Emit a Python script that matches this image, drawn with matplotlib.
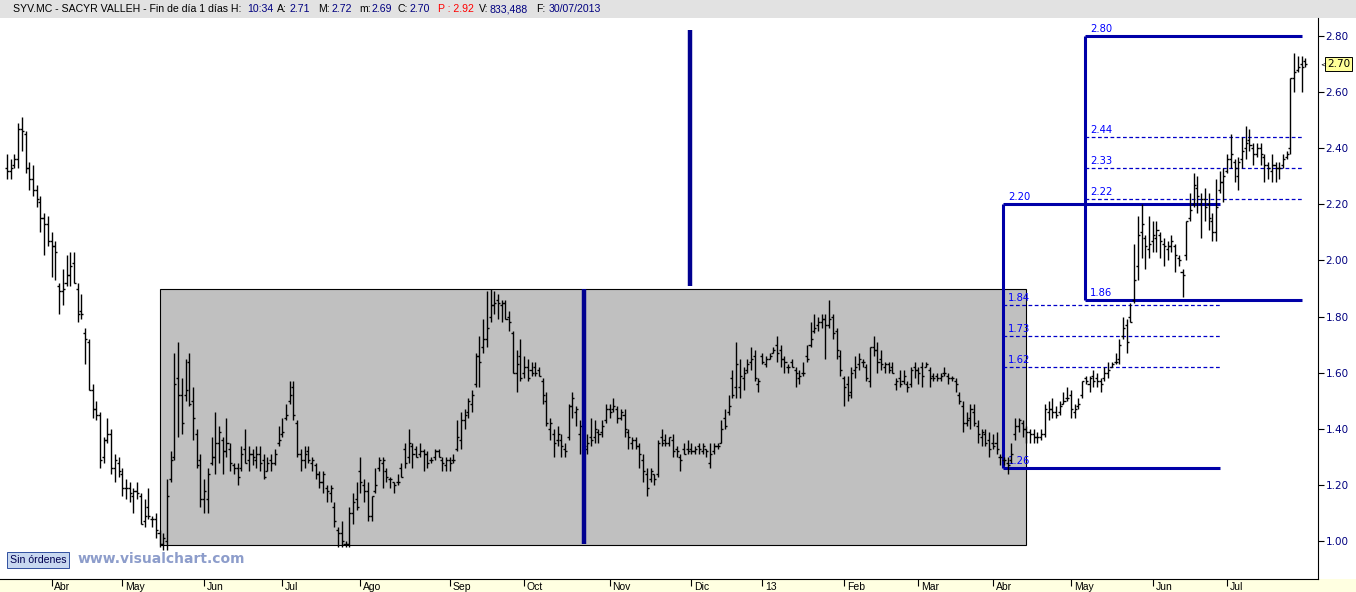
import numpy as np
import matplotlib
matplotlib.use("Agg")
import matplotlib.pyplot as plt
from matplotlib.patches import Rectangle
from matplotlib.transforms import ScaledTranslation, blended_transform_factory

# daily bars SYV.MC, mid-March 2012 .. 30/07/2013
highs = [
    2.38, 2.36, 2.38, 2.49, 2.51, 2.46, 2.35, 2.34, 2.27, 2.23,
    2.17, 2.16, 2.10, 2.07, 1.92, 1.97, 2.02, 2.03, 2.03, 1.92,
    1.88, 1.76, 1.72, 1.56, 1.50, 1.46, 1.37, 1.44, 1.40, 1.31,
    1.30, 1.26, 1.22, 1.21, 1.19, 1.21, 1.17, 1.15, 1.19, 1.09,
    1.10, 1.04, 1.03, 1.22,
    1.32, 1.67, 1.71, 1.58, 1.65, 1.67, 1.55, 1.40, 1.31, 1.22,
    1.26, 1.37, 1.46, 1.41, 1.37, 1.44, 1.35, 1.28, 1.28, 1.34,
    1.40, 1.34, 1.33, 1.34, 1.34, 1.31, 1.30, 1.31, 1.33, 1.41,
    1.44, 1.49, 1.57, 1.57, 1.43, 1.33, 1.34, 1.34, 1.30, 1.28,
    1.25, 1.25, 1.20, 1.20, 1.14, 1.05,
    1.07, 1.00, 1.12, 1.17, 1.21, 1.30, 1.22, 1.21, 1.16, 1.26,
    1.30, 1.30, 1.26, 1.23, 1.21, 1.24, 1.28, 1.35, 1.40, 1.35,
    1.34, 1.35, 1.33, 1.32, 1.30, 1.33, 1.33, 1.30, 1.30, 1.30,
    1.31, 1.43, 1.46, 1.47, 1.51, 1.54, 1.67, 1.73, 1.79, 1.89,
    1.90, 1.89, 1.88, 1.86, 1.86, 1.82,
    1.75, 1.68, 1.72, 1.66, 1.65, 1.64, 1.64, 1.62, 1.58, 1.53,
    1.44, 1.40, 1.41, 1.38, 1.35, 1.49, 1.53, 1.48, 1.43, 1.37,
    1.38, 1.44, 1.43, 1.40, 1.43, 1.49, 1.49, 1.51, 1.48, 1.47,
    1.47, 1.40, 1.37, 1.37, 1.35, 1.31, 1.26, 1.26, 1.24, 1.36,
    1.40, 1.38, 1.37, 1.38, 1.34,
    1.31, 1.35, 1.36, 1.35, 1.34, 1.35, 1.35, 1.33, 1.35, 1.35,
    1.35, 1.43, 1.47, 1.52, 1.61, 1.71, 1.65, 1.62, 1.65, 1.69,
    1.68, 1.58, 1.67, 1.66, 1.67, 1.69, 1.73, 1.70, 1.66, 1.63,
    1.65, 1.62, 1.61, 1.64, 1.70, 1.78, 1.81, 1.80, 1.81, 1.81,
    1.86, 1.81, 1.76, 1.68, 1.59, 1.59, 1.62, 1.66, 1.67,
    1.65, 1.63, 1.69, 1.73, 1.71, 1.68, 1.64, 1.64, 1.64, 1.58,
    1.61, 1.61, 1.57, 1.62, 1.64, 1.62, 1.64, 1.64, 1.62, 1.60,
    1.60, 1.60, 1.62, 1.60, 1.59, 1.58, 1.53, 1.50, 1.46, 1.49,
    1.49, 1.43, 1.40, 1.40, 1.39, 1.38, 1.39, 1.31, 1.30, 1.30,
    1.35, 1.44, 1.44, 1.43,
    1.41, 1.40, 1.40, 1.39, 1.40, 1.49, 1.50, 1.51, 1.48, 1.50,
    1.53, 1.55, 1.54, 1.49, 1.51, 1.57, 1.59, 1.59, 1.61, 1.60,
    1.58, 1.62, 1.64, 1.64, 1.67, 1.72, 1.80, 1.79, 1.85,
    2.06, 2.16, 2.20, 2.09, 2.16, 2.14, 2.14, 2.10, 2.08, 2.07,
    2.09, 2.06, 2.02, 1.97, 2.14, 2.24, 2.31, 2.30, 2.24, 2.26,
    2.24, 2.17, 2.29, 2.32, 2.33, 2.38, 2.45, 2.36, 2.37, 2.44,
    2.48, 2.47, 2.42, 2.42, 2.42, 2.38, 2.35, 2.38, 2.35, 2.35,
    2.38, 2.39, 2.65, 2.74, 2.73, 2.73, 2.72,
]
lows = [
    2.29, 2.29, 2.33, 2.33, 2.39, 2.31, 2.25, 2.23, 2.19, 2.10,
    2.02, 2.05, 1.94, 1.93, 1.81, 1.84, 1.91, 1.91, 1.92, 1.78,
    1.79, 1.63, 1.54, 1.44, 1.43, 1.26, 1.28, 1.35, 1.24, 1.21,
    1.23, 1.16, 1.15, 1.14, 1.10, 1.15, 1.06, 1.05, 1.08, 1.05,
    1.01, 0.98, 0.97, 0.97,
    1.21, 1.29, 1.37, 1.38, 1.50, 1.48, 1.36, 1.26, 1.12, 1.10,
    1.10, 1.27, 1.24, 1.28, 1.24, 1.30, 1.25, 1.24, 1.20, 1.25,
    1.28, 1.25, 1.27, 1.26, 1.25, 1.22, 1.25, 1.25, 1.27, 1.34,
    1.37, 1.43, 1.49, 1.43, 1.30, 1.25, 1.26, 1.28, 1.25, 1.22,
    1.19, 1.17, 1.14, 1.14, 1.05, 0.98,
    0.98, 0.98, 0.98, 1.06, 1.11, 1.17, 1.14, 1.07, 1.07, 1.17,
    1.25, 1.19, 1.21, 1.19, 1.17, 1.20, 1.23, 1.26, 1.28, 1.26,
    1.30, 1.30, 1.25, 1.26, 1.28, 1.29, 1.30, 1.25, 1.25, 1.25,
    1.28, 1.32, 1.33, 1.40, 1.44, 1.46, 1.55, 1.55, 1.67, 1.69,
    1.78, 1.81, 1.79, 1.78, 1.79, 1.75,
    1.60, 1.53, 1.57, 1.58, 1.57, 1.59, 1.59, 1.59, 1.49, 1.41,
    1.36, 1.30, 1.34, 1.30, 1.30, 1.36, 1.44, 1.41, 1.31, 1.32,
    1.31, 1.34, 1.35, 1.35, 1.37, 1.42, 1.44, 1.46, 1.42, 1.43,
    1.37, 1.33, 1.33, 1.33, 1.26, 1.21, 1.16, 1.21, 1.20, 1.23,
    1.34, 1.34, 1.34, 1.30, 1.30,
    1.25, 1.31, 1.31, 1.31, 1.31, 1.31, 1.31, 1.30, 1.26, 1.31,
    1.33, 1.35, 1.40, 1.45, 1.51, 1.51, 1.51, 1.54, 1.60, 1.61,
    1.57, 1.53, 1.63, 1.62, 1.65, 1.67, 1.64, 1.62, 1.60, 1.60,
    1.62, 1.55, 1.56, 1.59, 1.64, 1.69, 1.74, 1.75, 1.76, 1.65,
    1.76, 1.72, 1.65, 1.59, 1.48, 1.50, 1.51, 1.58, 1.61,
    1.62, 1.57, 1.55, 1.66, 1.60, 1.61, 1.60, 1.60, 1.60, 1.54,
    1.55, 1.56, 1.53, 1.55, 1.58, 1.56, 1.55, 1.62, 1.55, 1.57,
    1.57, 1.57, 1.59, 1.56, 1.57, 1.53, 1.49, 1.39, 1.41, 1.40,
    1.41, 1.35, 1.34, 1.34, 1.30, 1.33, 1.31, 1.27, 1.27, 1.24,
    1.28, 1.36, 1.39, 1.37,
    1.35, 1.35, 1.35, 1.35, 1.36, 1.37, 1.43, 1.44, 1.44, 1.45,
    1.49, 1.50, 1.44, 1.44, 1.47, 1.51, 1.56, 1.53, 1.55, 1.55,
    1.53, 1.57, 1.58, 1.62, 1.63, 1.63, 1.72, 1.67, 1.78,
    1.85, 1.93, 2.01, 1.97, 2.01, 2.03, 2.03, 2.01, 1.98, 2.00,
    2.03, 1.96, 1.98, 1.87, 2.00, 2.14, 2.19, 2.17, 2.08, 2.14,
    2.11, 2.07, 2.07, 2.24, 2.21, 2.31, 2.33, 2.28, 2.25, 2.33,
    2.36, 2.39, 2.34, 2.37, 2.34, 2.28, 2.29, 2.28, 2.28, 2.29,
    2.33, 2.36, 2.38, 2.60, 2.67, 2.60, 2.69,
]
opens = [
    2.33, 2.32, 2.34, 2.36, 2.47, 2.45, 2.33, 2.29, 2.25, 2.21,
    2.15, 2.13, 2.07, 2.05, 1.91, 1.89, 1.92, 1.95, 1.99, 1.90,
    1.82, 1.74, 1.71, 1.54, 1.47, 1.45, 1.30, 1.36, 1.38, 1.26,
    1.28, 1.24, 1.19, 1.19, 1.16, 1.18, 1.16, 1.07, 1.12, 1.08,
    1.08, 1.03, 0.99, 1.00,
    1.22, 1.30, 1.58, 1.52, 1.52, 1.64, 1.50, 1.38, 1.29, 1.15,
    1.15, 1.28, 1.30, 1.35, 1.36, 1.32, 1.33, 1.27, 1.26, 1.26,
    1.33, 1.29, 1.31, 1.29, 1.31, 1.29, 1.25, 1.29, 1.28, 1.35,
    1.38, 1.44, 1.50, 1.55, 1.42, 1.31, 1.29, 1.32, 1.28, 1.27,
    1.24, 1.21, 1.19, 1.17, 1.12, 1.04,
    1.03, 0.99, 0.99, 1.10, 1.15, 1.25, 1.20, 1.18, 1.09, 1.18,
    1.26, 1.28, 1.25, 1.22, 1.21, 1.21, 1.26, 1.33, 1.30, 1.34,
    1.33, 1.31, 1.32, 1.31, 1.29, 1.30, 1.32, 1.29, 1.27, 1.29,
    1.29, 1.33, 1.36, 1.43, 1.46, 1.49, 1.56, 1.66, 1.69, 1.72,
    1.80, 1.84, 1.86, 1.84, 1.85, 1.80,
    1.74, 1.60, 1.66, 1.60, 1.62, 1.61, 1.62, 1.61, 1.57, 1.50,
    1.40, 1.38, 1.36, 1.36, 1.33, 1.37, 1.48, 1.46, 1.38, 1.36,
    1.33, 1.37, 1.37, 1.39, 1.39, 1.43, 1.47, 1.47, 1.47, 1.44,
    1.45, 1.39, 1.35, 1.36, 1.34, 1.29, 1.24, 1.22, 1.24, 1.24,
    1.37, 1.36, 1.35, 1.36, 1.33,
    1.30, 1.33, 1.33, 1.33, 1.32, 1.34, 1.32, 1.33, 1.28, 1.32,
    1.34, 1.35, 1.44, 1.46, 1.58, 1.55, 1.55, 1.58, 1.61, 1.64,
    1.66, 1.56, 1.66, 1.63, 1.65, 1.67, 1.70, 1.68, 1.65, 1.62,
    1.64, 1.61, 1.58, 1.60, 1.66, 1.70, 1.75, 1.77, 1.78, 1.79,
    1.77, 1.80, 1.75, 1.66, 1.58, 1.56, 1.53, 1.61, 1.63,
    1.64, 1.62, 1.57, 1.69, 1.68, 1.65, 1.62, 1.63, 1.62, 1.56,
    1.58, 1.57, 1.56, 1.56, 1.62, 1.61, 1.62, 1.62, 1.61, 1.59,
    1.59, 1.58, 1.60, 1.59, 1.58, 1.57, 1.52, 1.48, 1.42, 1.44,
    1.46, 1.41, 1.37, 1.38, 1.36, 1.35, 1.35, 1.30, 1.29, 1.28,
    1.29, 1.38, 1.41, 1.42,
    1.40, 1.39, 1.38, 1.37, 1.37, 1.38, 1.46, 1.47, 1.46, 1.46,
    1.49, 1.51, 1.52, 1.46, 1.48, 1.52, 1.58, 1.56, 1.59, 1.58,
    1.57, 1.58, 1.60, 1.62, 1.64, 1.65, 1.73, 1.77, 1.80,
    1.86, 1.98, 2.10, 2.08, 2.04, 2.07, 2.08, 2.09, 2.06, 2.04,
    2.05, 2.05, 2.01, 1.96, 2.02, 2.15, 2.20, 2.26, 2.20, 2.22,
    2.20, 2.14, 2.10, 2.25, 2.28, 2.32, 2.36, 2.35, 2.30, 2.36,
    2.40, 2.43, 2.40, 2.38, 2.40, 2.37, 2.34, 2.32, 2.34, 2.33,
    2.34, 2.37, 2.40, 2.65, 2.68, 2.70, 2.71,
]
closes = [
    2.32, 2.33, 2.36, 2.47, 2.46, 2.33, 2.29, 2.25, 2.22, 2.15,
    2.13, 2.07, 2.05, 2.03, 1.89, 1.90, 1.95, 1.98, 1.92, 1.81,
    1.81, 1.72, 1.54, 1.47, 1.45, 1.29, 1.36, 1.38, 1.26, 1.29,
    1.25, 1.19, 1.19, 1.17, 1.18, 1.17, 1.06, 1.09, 1.09, 1.08,
    1.04, 0.99, 1.01, 1.16,
    1.29, 1.56, 1.52, 1.42, 1.54, 1.49, 1.44, 1.27, 1.15, 1.18,
    1.24, 1.30, 1.35, 1.39, 1.32, 1.35, 1.28, 1.26, 1.23, 1.31,
    1.28, 1.31, 1.30, 1.31, 1.28, 1.23, 1.28, 1.28, 1.31, 1.36,
    1.39, 1.45, 1.52, 1.45, 1.31, 1.29, 1.31, 1.29, 1.29, 1.24,
    1.21, 1.24, 1.18, 1.19, 1.07, 1.03,
    1.00, 0.99, 1.10, 1.14, 1.12, 1.21, 1.18, 1.09, 1.16, 1.20,
    1.29, 1.29, 1.23, 1.22, 1.20, 1.21, 1.23, 1.28, 1.35, 1.31,
    1.30, 1.32, 1.31, 1.28, 1.29, 1.32, 1.30, 1.28, 1.29, 1.28,
    1.29, 1.37, 1.43, 1.45, 1.50, 1.52, 1.66, 1.64, 1.72, 1.76,
    1.84, 1.85, 1.85, 1.85, 1.79, 1.78,
    1.60, 1.63, 1.58, 1.62, 1.58, 1.60, 1.60, 1.59, 1.52, 1.42,
    1.42, 1.35, 1.38, 1.34, 1.32, 1.48, 1.51, 1.47, 1.41, 1.34,
    1.35, 1.36, 1.40, 1.38, 1.41, 1.47, 1.46, 1.48, 1.44, 1.46,
    1.40, 1.37, 1.36, 1.34, 1.31, 1.25, 1.19, 1.25, 1.22, 1.35,
    1.35, 1.35, 1.37, 1.32, 1.32,
    1.29, 1.31, 1.32, 1.32, 1.33, 1.33, 1.34, 1.32, 1.31, 1.34,
    1.34, 1.40, 1.41, 1.48, 1.52, 1.63, 1.59, 1.60, 1.63, 1.65,
    1.58, 1.57, 1.64, 1.65, 1.66, 1.68, 1.67, 1.65, 1.64, 1.62,
    1.62, 1.60, 1.59, 1.60, 1.65, 1.72, 1.76, 1.78, 1.79, 1.77,
    1.79, 1.74, 1.68, 1.61, 1.55, 1.52, 1.60, 1.62, 1.65,
    1.64, 1.58, 1.69, 1.68, 1.64, 1.63, 1.63, 1.61, 1.60, 1.57,
    1.56, 1.59, 1.55, 1.61, 1.61, 1.60, 1.59, 1.63, 1.58, 1.58,
    1.58, 1.59, 1.60, 1.58, 1.58, 1.56, 1.50, 1.42, 1.43, 1.47,
    1.42, 1.38, 1.39, 1.35, 1.33, 1.34, 1.33, 1.30, 1.29, 1.27,
    1.31, 1.41, 1.43, 1.40,
    1.39, 1.38, 1.37, 1.37, 1.38, 1.47, 1.47, 1.46, 1.45, 1.48,
    1.50, 1.51, 1.47, 1.47, 1.49, 1.57, 1.57, 1.58, 1.57, 1.57,
    1.56, 1.60, 1.61, 1.63, 1.64, 1.70, 1.76, 1.71, 1.78,
    1.93, 2.09, 2.13, 2.05, 2.06, 2.09, 2.11, 2.07, 2.05, 2.05,
    2.07, 2.02, 2.00, 1.95, 2.14, 2.18, 2.27, 2.23, 2.22, 2.19,
    2.15, 2.10, 2.19, 2.28, 2.30, 2.36, 2.38, 2.33, 2.35, 2.39,
    2.42, 2.41, 2.38, 2.40, 2.38, 2.34, 2.33, 2.34, 2.33, 2.33,
    2.36, 2.38, 2.65, 2.67, 2.69, 2.69, 2.70,
]

# first bar of each month (bar index) and its label
month_idx = [12, 31, 53, 74, 95, 119, 139, 162, 184, 203, 225, 245, 265, 286, 308, 328]
month_lbl = ["Abr", "May", "Jun", "Jul", "Ago", "Sep", "Oct", "Nov", "Dic", "13",
             "Feb", "Mar", "Abr", "May", "Jun", "Jul"]

# drawings on the chart
range_box = [41.1, 273.9, 0.985, 1.90]          # x0, x1, y0, y1
vlines_thick = [(155.1, 0.99, 1.90), (183.6, 1.91, 2.82)]
fib1_x = [267.7, 326.1]
fib1_solid = [2.20, 1.26]
fib1_dash = [1.84, 1.73, 1.62]
fib2_x = [289.8, 348.1]
fib2_solid = [2.80, 1.86]
fib2_dash = [2.44, 2.33, 2.22]
last_price = 2.70

W, H = 1356, 592
NAVY = "#000080"
fig = plt.figure(figsize=(W / 100, H / 100), dpi=100)
ax = fig.add_axes([0, 13 / H, 1318 / W, (579 - 18) / H])

# header band and date band
fig.add_artist(Rectangle((0, 1 - 18 / H), 1, 18 / H, transform=fig.transFigure,
                         fc="#E2E2E2", ec="none", zorder=-1))
fig.add_artist(Rectangle((0, 0), 1, 13 / H, transform=fig.transFigure,
                         fc="#FFFFE1", ec="none", zorder=-1))

hdr = [(13, "SYV.MC - SACYR VALLEH - Fin de día 1 días H:", "black"),
       (247, "10:34", NAVY), (277, "A:", "black"), (290, "2.71", NAVY),
       (318, "M:", "black"), (331, "2.72", NAVY), (359, "m:", "black"),
       (371, "2.69", NAVY), (398, "C:", "black"), (410, "2.70", NAVY),
       (438, "P : 2.92", "red"), (479, "V:", "black"), (490, "833,488", NAVY),
       (536, "F:", "black"), (549, "30/07/2013", NAVY)]
for x, s, c in hdr:
    fig.text(x / W, 1 - 9 / H, s, color=c, fontsize=7.6, family="Liberation Sans",
             va="center", ha="left")

# range box
x0, x1, y0, y1 = range_box
ax.add_patch(Rectangle((x0, y0), x1 - x0, y1 - y0, fc="#C0C0C0", ec="black",
                       lw=0.8, zorder=1))

# fibonacci-like retracement drawings
BL = "#0000A8"
for xs, solid, dash in [(fib1_x, fib1_solid, fib1_dash), (fib2_x, fib2_solid, fib2_dash)]:
    ax.vlines(xs[0], min(solid), max(solid), color=BL, lw=2.2, zorder=2)
    ax.hlines(solid, xs[0], xs[1], color=BL, lw=2.2, zorder=2)
    ax.hlines(dash, xs[0], xs[1], color="#0000C8", lw=0.9, linestyles=(0, (3, 2)), zorder=2)
    for lv in solid + dash:
        ax.annotate(f"{lv:.2f}", (xs[0], lv), xytext=(5, 2), textcoords="offset pixels",
                    color="#0000FF", fontsize=7.2, va="bottom", ha="left", zorder=2)

# OHLC bars
idx = np.arange(len(closes))
ax.vlines(idx, lows, highs, color="black", lw=1.0, zorder=3)
ax.hlines(opens, idx - 0.55, idx, color="black", lw=1.0, zorder=3)
ax.hlines(closes, idx, idx + 0.55, color="black", lw=1.0, zorder=3)

for xv, ya, yb in vlines_thick:
    ax.vlines(xv, ya, yb, color="#000090", lw=3.2, zorder=5, clip_on=False)

ax.set_xlim(-7 / 3.72, (1318 - 7) / 3.72)
ax.set_ylim(0.865, 2.864)

# axes styling
for s in ["left", "top"]:
    ax.spines[s].set_visible(False)
for s in ["right", "bottom"]:
    ax.spines[s].set_linewidth(0.8)

yt = np.round(np.arange(1.0, 2.81, 0.2), 2)
ax.yaxis.tick_right()
ax.set_yticks(yt, [f"{v:.2f}" for v in yt])
ax.tick_params(axis="y", direction="out", length=4, width=0.8, labelcolor=NAVY,
               labelsize=7.5, pad=1.5)

ax.set_xticks(month_idx, month_lbl)
ax.tick_params(axis="x", direction="out", length=5, width=0.8, labelsize=7.5, pad=-3)
off = ScaledTranslation(2 / 72, 0, fig.dpi_scale_trans)
for lab in ax.get_xticklabels():
    lab.set_horizontalalignment("left")
    lab.set_family("Liberation Sans")
    lab.set_transform(lab.get_transform() + off)

# last price flag
tr = blended_transform_factory(ax.transAxes, ax.transData)
ax.annotate(f"{last_price:.2f}", (1, last_price), xycoords=tr, xytext=(9, 0),
            textcoords="offset pixels", fontsize=7.5, va="center", ha="left",
            annotation_clip=False,
            bbox=dict(boxstyle="square,pad=0.15", fc="#FFFF99", ec="black", lw=0.7))
ax.annotate("<", (1, last_price), xycoords=tr, xytext=(2, 0), textcoords="offset pixels",
            fontsize=5, va="center", ha="left", annotation_clip=False)

# footer bits
fig.text(10 / W, (592 - 560) / H, "Sin órdenes", fontsize=7.6, family="Liberation Sans",
         color="#000050", va="center", ha="left",
         bbox=dict(boxstyle="square,pad=0.25", fc="#C8D8F0", ec="#3050A0", lw=0.7))
fig.text(78 / W, (592 - 559) / H, "www.visualchart.com", fontsize=10, weight="bold",
         color="#8D9DCB", va="center", ha="left")

fig.savefig("out.png", dpi=100)
